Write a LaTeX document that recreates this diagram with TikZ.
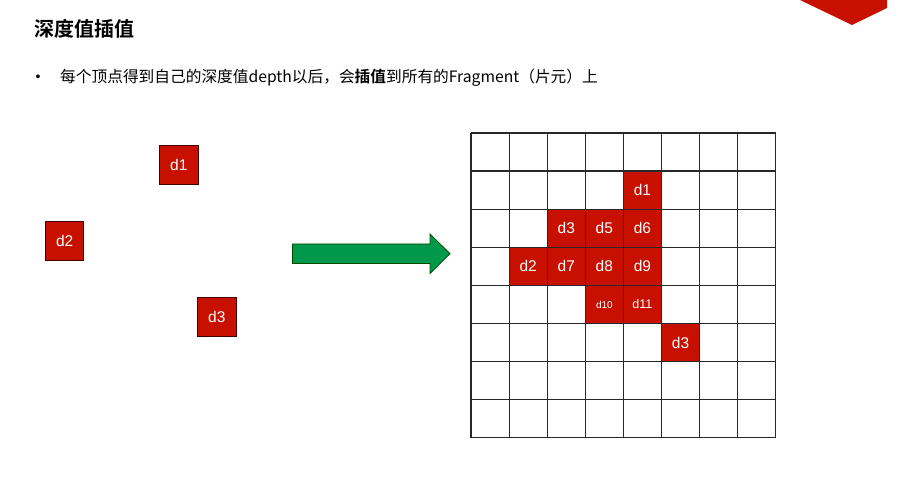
\documentclass[tikz,border=0pt]{standalone}
\usepackage{fontspec}
\setmainfont{Liberation Sans}
\newfontfamily\cjk{Noto Sans CJK SC}
\newfontfamily\cjkb{Noto Sans CJK SC Bold}
\definecolor{cellred}{RGB}{200,16,0}
\definecolor{arrowgreen}{RGB}{0,153,76}
\definecolor{gridline}{RGB}{40,40,40}
\tikzset{
  redcell/.style={draw=gridline, line width=1.2pt, fill=cellred, minimum size=38.1pt, inner sep=0pt, text=white, font=\fontsize{15.5}{15.5}\selectfont},
  vertbox/.style={draw=black!75!red, line width=1pt, fill=cellred, minimum size=38.5pt, inner sep=0pt, text=white, font=\fontsize{15.5}{15.5}\selectfont},
}
\begin{document}
\begin{tikzpicture}[x=1pt,y=-1pt]
\useasboundingbox (0,0) rectangle (918,478);
% corner decoration
\fill[cellred] (800,0) -- (852,25) -- (887,8) -- (887,0) -- cycle;
% title
\node[anchor=west, inner sep=0pt] (title) at (34,29) {\fontsize{20}{24}\selectfont\cjkb 深度值插值};
% bullet line
\node[anchor=center, inner sep=0pt] (bullet) at (38,78) {\fontsize{14}{14}\selectfont •};
\node[anchor=west, inner sep=0pt] (line) at (60,78) {\fontsize{15.7}{18}\selectfont\cjk 每个顶点得到自己的深度值depth以后，会{\cjkb 插值}到所有的Fragment（片元）上};
% vertex boxes
\node[vertbox] (v1) at (178.8,165) {d1};
\node[vertbox] (v2) at (64.7,241.2) {d2};
\node[vertbox] (v3) at (216.8,317.2) {d3};
% arrow
\draw[fill=arrowgreen, draw=black!70!green, line width=0.8pt] (292.5,244) -- (430,244) -- (430,234) -- (450,253.7) -- (430,273.5) -- (430,263.5) -- (292.5,263.5) -- cycle;
% grid
\def\gx{471}\def\gy{133}\def\cs{38.1}
\foreach \i in {0,...,8}{
  \draw[gridline, line width=1.2pt] (\gx+\i*\cs,\gy) -- (\gx+\i*\cs,\gy+8*\cs);
  \draw[gridline, line width=1.2pt] (\gx,\gy+\i*\cs) -- (\gx+8*\cs,\gy+\i*\cs);
}
% red cells (col,row)
\node[redcell] (c41) at (\gx+4.5*\cs,\gy+1.5*\cs) {d1};
\node[redcell] (c22) at (\gx+2.5*\cs,\gy+2.5*\cs) {d3};
\node[redcell] (c32) at (\gx+3.5*\cs,\gy+2.5*\cs) {d5};
\node[redcell] (c42) at (\gx+4.5*\cs,\gy+2.5*\cs) {d6};
\node[redcell] (c13) at (\gx+1.5*\cs,\gy+3.5*\cs) {d2};
\node[redcell] (c23) at (\gx+2.5*\cs,\gy+3.5*\cs) {d7};
\node[redcell] (c33) at (\gx+3.5*\cs,\gy+3.5*\cs) {d8};
\node[redcell] (c43) at (\gx+4.5*\cs,\gy+3.5*\cs) {d9};
\node[redcell, font=\fontsize{10}{10}\selectfont] (c34) at (\gx+3.5*\cs,\gy+4.5*\cs) {d10};
\node[redcell, font=\fontsize{12.5}{12.5}\selectfont] (c44) at (\gx+4.5*\cs,\gy+4.5*\cs) {d11};
\node[redcell] (c55) at (\gx+5.5*\cs,\gy+5.5*\cs) {d3};
\end{tikzpicture}
\end{document}
